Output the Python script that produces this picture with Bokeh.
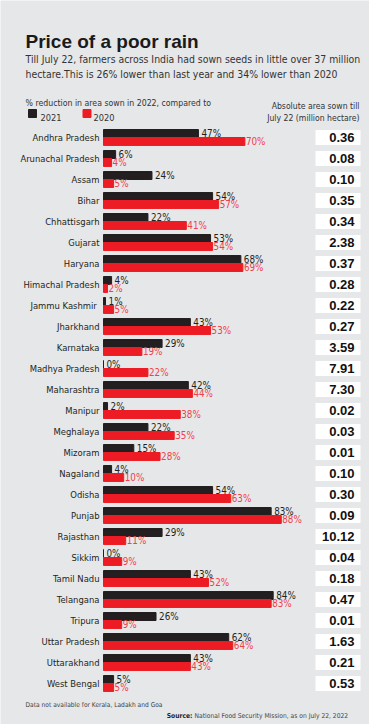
from bokeh.plotting import figure
from bokeh.models import ColumnDataSource, Range1d, Label
from bokeh.core.properties import value
from bokeh.embed import file_html
from bokeh.resources import INLINE

# ---------------- data ----------------
states = ["Andhra Pradesh", "Arunachal Pradesh", "Assam", "Bihar", "Chhattisgarh",
          "Gujarat", "Haryana", "Himachal Pradesh", "Jammu  Kashmir", "Jharkhand",
          "Karnataka", "Madhya Pradesh", "Maharashtra", "Manipur", "Meghalaya",
          "Mizoram", "Nagaland", "Odisha", "Punjab", "Rajasthan", "Sikkim",
          "Tamil Nadu", "Telangana", "Tripura", "Uttar Pradesh", "Uttarakhand",
          "West Bengal"]
red_2021 = [47, 6, 24, 54, 22, 53, 68, 4, 1, 43, 29, 0, 42, 2, 22, 15, 4, 54, 83,
            29, 0, 43, 84, 26, 62, 43, 5]
red_2020 = [70, 4, 5, 57, 41, 54, 69, 2, 5, 53, 19, 22, 44, 38, 35, 28, 10, 63, 88,
            11, 9, 52, 83, 9, 64, 43, 5]
area_sown = [0.36, 0.08, 0.10, 0.35, 0.34, 2.38, 0.37, 0.28, 0.22, 0.27, 3.59, 7.91,
             7.30, 0.02, 0.03, 0.01, 0.10, 0.30, 0.09, 10.12, 0.04, 0.18, 0.47,
             0.01, 1.63, 0.21, 0.53]

# ---------------- layout ----------------
W, H = 369, 724
X0, PXPCT = 103.0, 2.02       # bar origin (px) and px per percent
Y0, ROW = 137.0, 21.0         # first row centre (px) and row pitch (px)


def dx(px):
    return (px - X0) / PXPCT


def dy(py):
    return (py - Y0) / ROW


BG = "#e6e7e9"
BLACK = "#231f20"
RED = "#ed1c24"
RED_TXT = "#ef3e4c"
COND = "DejaVu Sans Condensed"
NARROW = value(COND)
SANS = "Liberation Sans"

idx = list(range(len(states)))
half = 0.19
src = ColumnDataSource(dict(
    idx=idx,
    state=states,
    v21=red_2021,
    v20=red_2020,
    y21=[i - half for i in idx],
    y20=[i + half for i in idx],
    l21=[f"{v}%" for v in red_2021],
    l20=[f"{v}%" for v in red_2020],
    area=[f"{a:.2f}" for a in area_sown],
))

p = figure(width=W, height=H, x_range=Range1d(dx(0), dx(W)),
           y_range=Range1d(dy(H), dy(0)), x_axis_type=None, y_axis_type=None,
           output_backend="svg", toolbar_location=None, min_border=0)
p.grid.visible = False
p.outline_line_color = None
p.background_fill_color = BG
p.border_fill_color = BG

# bars
p.hbar(y="y21", left=0, right="v21", height=0.38, source=src, color=BLACK)
p.hbar(y="y20", left=0, right="v20", height=0.38, source=src, color=RED)

# percent labels
p.text(x="v21", y="y21", text="l21", source=src, x_offset=3, text_baseline="middle",
       text_font=NARROW, text_font_size="9.8px", text_color=BLACK)
p.text(x="v20", y="y20", text="l20", source=src, x_offset=1, text_baseline="middle",
       text_font=NARROW, text_font_size="9.8px", text_color=RED_TXT)

# state names
p.text(x=dx(99), y="idx", text="state", source=src, text_align="right",
       text_baseline="middle", text_font=NARROW, text_font_size="9.4px",
       text_color=BLACK)

# area boxes
p.rect(x=dx(337.5), y="idx", width=45, height=15, width_units="screen",
       height_units="screen", source=src, fill_color="white", line_color=None)
p.text(x=dx(354), y="idx", text="area", source=src, text_align="right",
       text_baseline="middle", text_font=value(SANS), text_font_style="bold",
       text_font_size="13px", text_color="#111111")

# title & texts


def lab(x, y, text, size, align="left", color="#333333", font=COND, style="normal"):
    p.add_layout(Label(x=dx(x), y=dy(y), text=text, text_align=align,
                       text_baseline="alphabetic", text_font=font,
                       text_font_size=size, text_color=color, text_font_style=style))


lab(25, 41, "Price of a poor rain", "19px", color="#1a1a1a", font=SANS, style="bold")
lab(25, 58, "Till July 22, farmers across India had sown seeds in little over 37 million",
    "10.4px")
lab(25, 73, "hectare.This is 26% lower than last year and 34% lower than 2020", "10.4px")
lab(25, 102, "% reduction in area sown in 2022, compared to", "8.7px")
lab(40, 117, "2021", "9.2px")
lab(93, 117, "2020", "9.2px")
lab(359, 105, "Absolute area sown till", "8.6px", align="right")
lab(359, 117, "July 22 (million hectare)", "8.6px", align="right")
lab(25, 704, "Data not available for Kerala, Ladakh and Goa", "6.6px", color="#444444")
lab(192, 715, "Source:", "6.7px", align="right", color="#222222", style="bold")
lab(194, 715, "National Food Security Mission, as on July 22, 2022", "6.7px",
    color="#444444")

# legend keys
p.rect(x=[dx(32)], y=[dy(113)], width=8, height=8, width_units="screen",
       height_units="screen", color=BLACK)
p.rect(x=[dx(86.5)], y=[dy(113)], width=8, height=8, width_units="screen",
       height_units="screen", color=RED)

open("out.html", "w").write(file_html(p, INLINE))
